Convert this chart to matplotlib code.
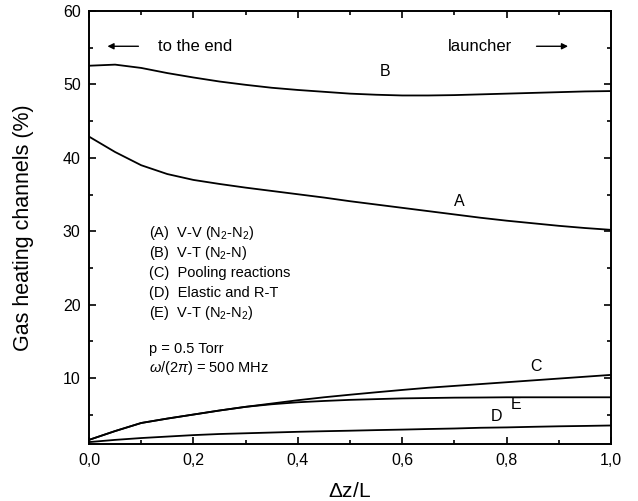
import matplotlib
matplotlib.use("Agg")
import matplotlib.pyplot as plt
from matplotlib.ticker import MultipleLocator, FuncFormatter

plt.rcParams['font.family'] = ['Liberation Sans', 'DejaVu Sans']
plt.rcParams['mathtext.fontset'] = 'custom'
plt.rcParams['mathtext.rm'] = 'Liberation Sans'
plt.rcParams['mathtext.it'] = 'Liberation Sans:italic'

dz = [0.0, 0.05, 0.1, 0.15, 0.2, 0.25, 0.3, 0.35, 0.4, 0.45, 0.5,
      0.55, 0.6, 0.65, 0.7, 0.75, 0.8, 0.85, 0.9, 0.95, 1.0]
A = [42.9, 40.8, 39.0, 37.8, 37.0, 36.45, 35.95, 35.5, 35.05, 34.6, 34.1,
     33.65, 33.2, 32.75, 32.3, 31.85, 31.45, 31.1, 30.75, 30.45, 30.2]
B = [52.55, 52.7, 52.25, 51.55, 50.95, 50.4, 49.95, 49.55, 49.25, 49.0, 48.75,
     48.6, 48.5, 48.5, 48.55, 48.65, 48.75, 48.85, 48.95, 49.05, 49.1]
C = [1.6, 2.8, 3.9, 4.5, 5.05, 5.6, 6.1, 6.55, 7.0, 7.4, 7.75,
     8.08, 8.4, 8.7, 8.95, 9.2, 9.45, 9.7, 9.95, 10.2, 10.45]
D = [1.3, 1.6, 1.85, 2.05, 2.25, 2.4, 2.5, 2.6, 2.7, 2.78, 2.85,
     2.93, 3.0, 3.08, 3.15, 3.25, 3.3, 3.38, 3.45, 3.5, 3.56]
E = [1.6, 2.8, 3.9, 4.5, 5.05, 5.6, 6.1, 6.45, 6.72, 6.9, 7.05,
     7.15, 7.25, 7.3, 7.35, 7.37, 7.4, 7.4, 7.4, 7.4, 7.4]

legend_lines = [r"(A)  V-V (N$_2$-N$_2$)",
                r"(B)  V-T (N$_2$-N)",
                "(C)  Pooling reactions",
                "(D)  Elastic and R-T",
                r"(E)  V-T (N$_2$-N$_2$)"]
params = ["p = 0.5 Torr", r"$\omega$/(2$\pi$) = 500 MHz"]

fig = plt.figure(figsize=(6.38, 5.01), dpi=100)
ax = fig.add_axes([0.1395, 0.1132, 0.8182, 0.8648])

for s in (A, B, C, D, E):
    ax.plot(dz, s, color='black', lw=1.3)

ax.set_xlim(0, 1.0)
ax.set_ylim(1, 60)
ax.xaxis.set_major_locator(MultipleLocator(0.2))
ax.xaxis.set_minor_locator(MultipleLocator(0.1))
ax.yaxis.set_major_locator(MultipleLocator(10))
ax.yaxis.set_minor_locator(MultipleLocator(5))
ax.xaxis.set_major_formatter(FuncFormatter(lambda v, p: f"{v:.1f}".replace('.', ',')))
ax.yaxis.set_major_formatter(FuncFormatter(lambda v, p: f"{int(round(v))}"))
ax.tick_params(which='both', direction='in', top=True, right=True, width=1.2,
               labelsize=11.5)
ax.tick_params(which='major', length=5, pad=6)
ax.tick_params(which='minor', length=3)
for sp in ax.spines.values():
    sp.set_linewidth(1.4)

ax.set_ylabel("Gas heating channels (%)", fontsize=15.5)
ax.yaxis.set_label_coords(-0.106, 0.5)
ax.set_xlabel(r"$\Delta$z/L", fontsize=15)
ax.xaxis.set_label_coords(0.5, -0.086)

# curve labels
ax.text(0.567, 50.7, "B", fontsize=11.5, ha='center', va='bottom')
ax.text(0.71, 33.1, "A", fontsize=11.5, ha='center', va='bottom')
ax.text(0.856, 10.6, "C", fontsize=11.5, ha='center', va='bottom')
ax.text(0.818, 5.4, "E", fontsize=11.5, ha='center', va='bottom')
ax.text(0.78, 3.8, "D", fontsize=11.5, ha='center', va='bottom')

# direction arrows
ax.annotate("", xy=(0.03, 55.2), xytext=(0.1, 55.2),
            arrowprops=dict(arrowstyle='-|>', color='black', lw=1.0,
                            mutation_scale=9))
ax.text(0.132, 55.2, "to the end", fontsize=12, ha='left', va='center')
ax.text(0.688, 55.2, "launcher", fontsize=12, ha='left', va='center')
ax.annotate("", xy=(0.923, 55.2), xytext=(0.852, 55.2),
            arrowprops=dict(arrowstyle='-|>', color='black', lw=1.0,
                            mutation_scale=9))

# legend text
for i, t in enumerate(legend_lines):
    ax.text(0.114, 29.8 - i * 2.72, t, fontsize=10.5, ha='left', va='center')
for i, t in enumerate(params):
    ax.text(0.114, 14.0 - i * 2.6, t, fontsize=10.5, ha='left', va='center')

fig.savefig("out.png", dpi=100)
